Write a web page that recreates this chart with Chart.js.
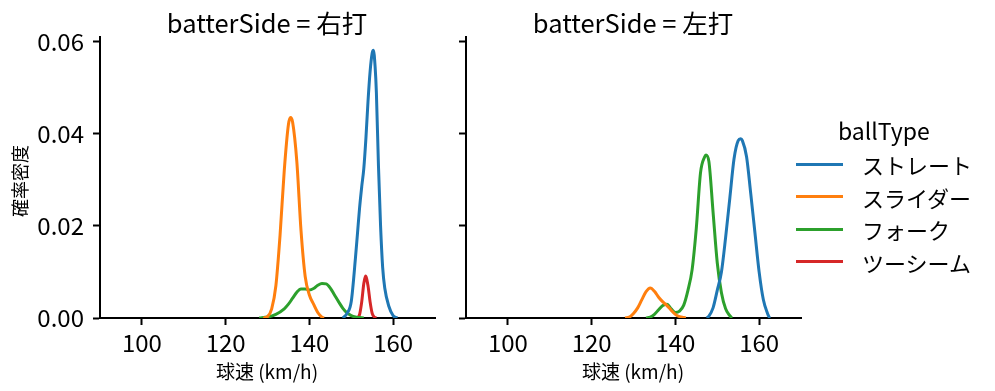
<!DOCTYPE html>
<html>
<head>
<meta charset="utf-8">
<script src="https://cdn.jsdelivr.net/npm/chart.js@4.4.1/dist/chart.umd.min.js"></script>
<style>
  body { margin: 0; background: #fff; font-family: "Noto Sans CJK JP", sans-serif; }
  #wrap { position: relative; width: 995px; height: 391px; overflow: hidden; }
  canvas { position: absolute; top: 0; }
  .txt { position: absolute; color: #000; white-space: nowrap; line-height: 1; }
  .title { font-size: 25.5px; transform: translate(-50%, -50%); }
  .xlab { font-size: 19px; transform: translate(-50%, -50%); }
  .leg { position: absolute; left: 796px; top: 112px; font-size: 22px; }
  .leg .row { display: flex; align-items: center; height: 32.5px; }
  .leg .sw { width: 47px; height: 3px; margin-right: 19px; }
</style>
</head>
<body>
<div id="wrap">
  <canvas id="c1" width="450" height="391" style="left:0px"></canvas>
  <canvas id="c2" width="450" height="391" style="left:366px"></canvas>
  <div class="txt title" style="left:267px; top:22px">batterSide = 右打</div>
  <div class="txt title" style="left:633px; top:22px">batterSide = 左打</div>
  <div class="txt xlab" style="left:267px; top:370px">球速 (km/h)</div>
  <div class="txt xlab" style="left:633px; top:370px">球速 (km/h)</div>
  <div class="txt" style="left:19px; top:181px; font-size:18px; transform:translate(-50%,-50%) rotate(-90deg)">確率密度</div>
  <div class="leg" id="legend">
    <div style="font-size:23px; margin-left:42px; height:36px; line-height:36px">ballType</div>
  </div>
</div>
<script>
// ball types and colours
const ballTypes = ["ストレート", "スライダー", "フォーク", "ツーシーム"];
const colors = ["#1f77b4", "#ff7f0e", "#2ca02c", "#d62728"];

const xTicks = [100, 120, 140, 160];
const yTicks = [0, 0.02, 0.04, 0.06];

// 右打 (left panel) - density curves
const rStraightX = [148, 149, 150, 151, 151.5, 152, 152.5, 153, 153.5, 154, 154.5, 155, 155.3, 155.7, 156, 156.5, 157, 157.5, 158, 159, 160, 161];
const rStraightY = [0, 0.0010, 0.0036, 0.0130, 0.0185, 0.0240, 0.0285, 0.0325, 0.0390, 0.0470, 0.0535, 0.0575, 0.0581, 0.0545, 0.0490, 0.0330, 0.0200, 0.0110, 0.0065, 0.0025, 0.0005, 0];
const rSliderX = [129, 130, 131, 132, 133, 134, 135, 135.5, 136, 137, 138, 139, 140, 141, 142, 143, 143.5];
const rSliderY = [0, 0.0003, 0.0020, 0.0070, 0.0180, 0.0320, 0.0420, 0.0435, 0.0425, 0.0340, 0.0190, 0.0090, 0.0050, 0.0030, 0.0012, 0.0002, 0];
const rForkX = [128, 130, 132, 134, 135, 136, 137, 138, 139, 140, 141, 142, 143, 144, 145, 146, 147, 148, 149, 150, 151, 152, 153];
const rForkY = [0, 0.0002, 0.0008, 0.0020, 0.0030, 0.0043, 0.0056, 0.0063, 0.0063, 0.0061, 0.0064, 0.0071, 0.0075, 0.0074, 0.0065, 0.0050, 0.0035, 0.0021, 0.0011, 0.0005, 0.0002, 0.0001, 0];
const rTwoSeamX = [151.5, 152, 152.5, 153, 153.4, 154, 154.5, 155, 155.5, 156];
const rTwoSeamY = [0, 0.0008, 0.0035, 0.0075, 0.0091, 0.0070, 0.0035, 0.0010, 0.0002, 0];

// 左打 (right panel)
const lStraightX = [147.5, 148, 149, 150, 151, 152, 153, 154, 155, 155.6, 156, 157, 158, 159, 160, 161, 162, 162.5];
const lStraightY = [0, 0.0004, 0.0022, 0.0060, 0.0100, 0.0175, 0.0260, 0.0345, 0.0385, 0.0389, 0.0385, 0.0350, 0.0270, 0.0185, 0.0100, 0.0040, 0.0010, 0];
const lSliderX = [128, 129, 130, 131, 132, 133, 134, 135, 136, 137, 138, 139, 140, 141, 142, 142.5];
const lSliderY = [0, 0.0002, 0.0010, 0.0022, 0.0040, 0.0057, 0.0065, 0.0058, 0.0045, 0.0035, 0.0027, 0.0017, 0.0008, 0.0003, 0.0001, 0];
const lForkX = [133, 134, 135, 136, 137, 138, 139, 140, 141, 142, 143, 144, 145, 146, 147, 147.3, 148, 149, 150, 151, 152, 153, 153.5];
const lForkY = [0, 0.0002, 0.0008, 0.0018, 0.0027, 0.0030, 0.0020, 0.0012, 0.0015, 0.0028, 0.0060, 0.0105, 0.0195, 0.0315, 0.0350, 0.0354, 0.0340, 0.0230, 0.0120, 0.0055, 0.0020, 0.0005, 0];

function pts(xs, ys) {
  return xs.map((x, i) => ({ x: x, y: ys[i] }));
}

function ds(idx, xs, ys) {
  return {
    label: ballTypes[idx],
    data: pts(xs, ys),
    borderColor: colors[idx],
    backgroundColor: colors[idx],
    borderWidth: 3,
    pointRadius: 0,
    cubicInterpolationMode: "monotone",
    fill: false,
  };
}

const tickFont = { family: "Noto Sans CJK JP", size: 24 };

function makeChart(id, datasets, showYLabels) {
  const ctx = document.getElementById(id).getContext("2d");
  return new Chart(ctx, {
    type: "line",
    data: { datasets: datasets },
    options: {
      responsive: false,
      animation: false,
      layout: { padding: { top: 37, right: 15, left: 0, bottom: 0 } },
      plugins: { legend: { display: false }, tooltip: { enabled: false } },
      scales: {
        x: {
          type: "linear",
          min: 90,
          max: 170,
          afterBuildTicks: (s) => { s.ticks = xTicks.map((v) => ({ value: v })); },
          afterFit: (s) => { s.height = 73; },
          border: { display: true, color: "#000", width: 2 },
          grid: { drawOnChartArea: false, drawTicks: true, tickLength: 7, tickWidth: 2, tickColor: "#000" },
          ticks: { color: "#000", font: tickFont, padding: 3, maxRotation: 0 },
        },
        y: {
          type: "linear",
          min: 0,
          max: 0.061,
          afterBuildTicks: (s) => { s.ticks = yTicks.map((v) => ({ value: v })); },
          afterFit: (s) => { s.width = 100; },
          border: { display: true, color: "#000", width: 2 },
          grid: { drawOnChartArea: false, drawTicks: true, tickLength: 7, tickWidth: 2, tickColor: "#000" },
          ticks: {
            display: showYLabels,
            color: "#000",
            font: tickFont,
            padding: 9,
            callback: (v) => v.toFixed(2),
          },
        },
      },
    },
  });
}

makeChart("c1", [
  ds(0, rStraightX, rStraightY),
  ds(1, rSliderX, rSliderY),
  ds(2, rForkX, rForkY),
  ds(3, rTwoSeamX, rTwoSeamY),
], true);

makeChart("c2", [
  ds(0, lStraightX, lStraightY),
  ds(1, lSliderX, lSliderY),
  ds(2, lForkX, lForkY),
], false);

// legend
const leg = document.getElementById("legend");
ballTypes.forEach((name, i) => {
  const row = document.createElement("div");
  row.className = "row";
  row.innerHTML = '<div class="sw" style="background:' + colors[i] + '"></div><span>' + name + "</span>";
  leg.appendChild(row);
});
</script>
</body>
</html>
